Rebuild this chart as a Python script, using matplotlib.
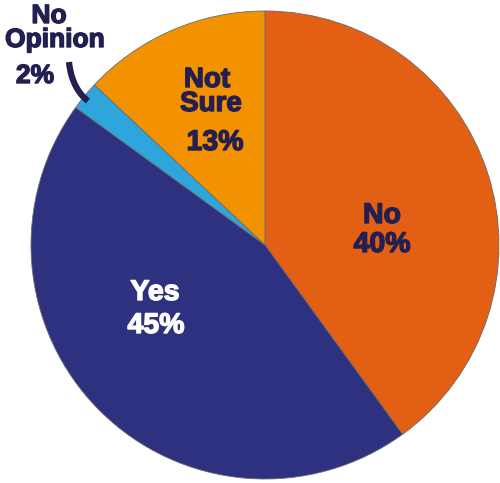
import matplotlib
matplotlib.use("Agg")
import matplotlib.pyplot as plt
from matplotlib.path import Path
from matplotlib.patches import PathPatch
import matplotlib.patheffects as pe

categories = ["No", "Yes", "No Opinion", "Not Sure"]
values = [40, 45, 2, 13]
colors = ["#E35F14", "#2E3080", "#2EA6DC", "#F39200"]

W, H = 500, 483
fig = plt.figure(figsize=(W / 100, H / 100), dpi=100)
ax = fig.add_axes([0, 0, 1, 1])

cx, cy, r = 265, H - 245, 234
ax.pie(values, colors=colors, startangle=90, counterclock=False,
       center=(cx, cy), radius=r, frame=True,
       wedgeprops=dict(edgecolor="#6a6a6a", linewidth=0.6))
ax.set_xlim(0, W)
ax.set_ylim(0, H)
ax.set_aspect("equal")
ax.axis("off")

dark = "#231F50"
font = dict(family=["Liberation Sans", "DejaVu Sans"], fontweight="bold", ha="center", va="baseline")

def t(x, y, s, size, color=dark):
    ax.text(x, H - y, s, fontsize=size, color=color,
            path_effects=[pe.withStroke(linewidth=1.0, foreground=color)], **font)

# No 40%
t(382, 223, "No", 20.5)
t(382, 252, "40%", 20.5)
# Yes 45%
t(155, 300, "Yes", 20.5, "white")
t(156, 333, "45%", 20.5, "white")
# Not Sure 13%
t(207, 87, "Not", 20)
t(211, 111, "Sure", 20)
t(215, 150, "13%", 20.5)
# No Opinion 2%
t(49, 23, "No", 19)
t(55, 47, "Opinion", 19)
t(35, 83, "2%", 19)

# connector
verts = [(69, H - 62), (71, H - 82), (79, H - 94), (88, H - 101)]
path = Path(verts, [Path.MOVETO, Path.CURVE4, Path.CURVE4, Path.CURVE4])
ax.add_patch(PathPatch(path, facecolor="none", edgecolor=dark, linewidth=4.5, capstyle="butt"))

fig.savefig("out.png", dpi=100)
